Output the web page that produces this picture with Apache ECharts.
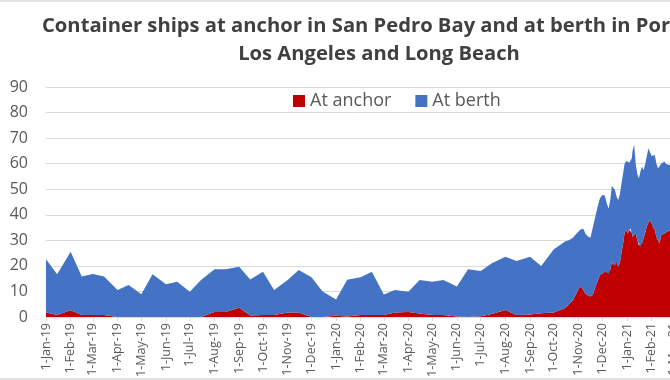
<!DOCTYPE html>
<html>
<head>
<meta charset="utf-8">
<script src="https://cdn.jsdelivr.net/npm/echarts@6/dist/echarts.min.js"></script>
<style>
html,body{margin:0;padding:0;background:#fff;}
#chart{width:670px;height:380px;}
</style>
</head>
<body>
<div id="chart"></div>
<script>
// Observation dates (semi-monthly, then denser from late Oct 2020)
const dates = [
 '2019-01-01','2019-01-15','2019-02-01','2019-02-15','2019-03-01','2019-03-15','2019-04-01','2019-04-15',
 '2019-05-01','2019-05-15','2019-06-01','2019-06-15','2019-07-01','2019-07-15','2019-08-01','2019-08-15',
 '2019-09-01','2019-09-15','2019-10-01','2019-10-15','2019-11-01','2019-11-15','2019-12-01','2019-12-15',
 '2020-01-01','2020-01-15','2020-02-01','2020-02-15','2020-03-01','2020-03-15','2020-04-01','2020-04-15',
 '2020-05-01','2020-05-15','2020-06-01','2020-06-15','2020-07-01','2020-07-15','2020-08-01','2020-08-15',
 '2020-09-01','2020-09-15','2020-10-01','2020-10-15',
 '2020-10-20','2020-10-25','2020-10-29','2020-11-01','2020-11-04','2020-11-07','2020-11-10','2020-11-13',
 '2020-11-16','2020-11-19','2020-11-22','2020-11-25','2020-11-28','2020-12-01','2020-12-04','2020-12-07',
 '2020-12-09','2020-12-11','2020-12-13','2020-12-15','2020-12-17','2020-12-19','2020-12-21','2020-12-23',
 '2020-12-25','2020-12-27','2020-12-29','2020-12-31','2021-01-02','2021-01-04','2021-01-05','2021-01-07',
 '2021-01-08','2021-01-10','2021-01-12','2021-01-14','2021-01-16','2021-01-18','2021-01-20','2021-01-22',
 '2021-01-24','2021-01-26','2021-01-28','2021-01-30','2021-02-01','2021-02-03','2021-02-05','2021-02-07',
 '2021-02-09','2021-02-11','2021-02-13','2021-02-15','2021-02-17','2021-02-19','2021-02-21','2021-02-23',
 '2021-02-25','2021-02-27'
];
// Ships at anchor in San Pedro Bay
const atAnchor = [
 1.8,0.8,2.6,0.8,0.8,0.8,0,0, 0,0,0,0,0,0,2,2, 3.6,0.6,0.8,0.8,1.8,1.8,0,0,
 0.5,0.2,0.8,0.8,0.8,1.8,2,1.4, 0.8,0.8,0.2,0,0.3,1.2,2.7,0.8, 1,1.5,1.8,3.5,
 5,6.6,9,11,11.9,10.6,9,8.5, 8,8.6,11.5,14,16.5,17,17.7,17.5,
 17,18.5,21.6,20.5,20,21.5,19.7,21, 25,28.5,33,34,32.7,34,34.7,33,
 31.4,32,32.7,30,28,27.5,29,31, 33,35.5,37,38,36.7,35,34,31.4,
 30,28.8,32,32.7,32.7,33,33.5,34, 34,35
];
// Ships at berth in the ports of Los Angeles and Long Beach
const atBerth = [
 20.8,15.9,22.9,15,16,15,10.6,12.5, 8.9,16.7,12.8,13.8,9.9,14.5,16.7,16.7, 16.1,14.1,16.9,9.8,12.7,16.6,15.6,10,
 6.3,14.4,14.8,16.9,8,8.8,7.9,13.1, 13,13.7,11.7,18.7,17.7,19.8,20.9,21.1, 22.6,18.5,24.7,26,
 25,24.4,23.5,22.5,22.4,23.9,23.5,23, 23,26.4,27.5,29,30,30.7,29.8,26.5,
 25.5,27.5,29.7,30,29.5,25.5,26.1,27, 27,27.5,27,27,28.7,26.5,25.3,29,
 33.6,35.5,27.3,26,26.3,29.5,29.8,26.5, 27,27.5,29,27.3,26.3,27.7,29.4,28.6,
 28.2,30.2,28,27.8,28.1,27,26,25.4, 26,26
];
const monthNames = ['Jan','Feb','Mar','Apr','May','Jun','Jul','Aug','Sep','Oct','Nov','Dec'];
const seriesNames = ['At anchor','At berth'];
const titleLines = ['Container ships at anchor in San Pedro Bay and at berth in Ports of','Los Angeles and Long Beach'];

function toTs(s){const p=s.split('-').map(Number);return new Date(p[0],p[1]-1,p[2]).getTime();}
const DAY = 86400000;

const chart = echarts.init(document.getElementById('chart'), null, {renderer:'canvas'});
const FONT = '"Open Sans", "Liberation Sans", sans-serif';
chart.setOption({
  animation:false,
  backgroundColor:'#fff',
  textStyle:{fontFamily:FONT},
  graphic:[
    {type:'rect', shape:{x:0,y:0,width:670,height:2}, style:{fill:'#e3e3e3'}, silent:true},
    {type:'rect', shape:{x:0,y:378,width:670,height:2}, style:{fill:'#e3e3e3'}, silent:true},
    {type:'text', x:42, y:26, style:{text:titleLines[0], fill:'#404040', fontSize:20.2, fontWeight:'bold', fontFamily:FONT, align:'left', verticalAlign:'middle'}},
    {type:'text', x:379, y:54, style:{text:titleLines[1], fill:'#404040', fontSize:20.2, fontWeight:'bold', fontFamily:FONT, align:'center', verticalAlign:'middle'}}
  ],
  legend:{
    data:seriesNames, left:288, top:87, icon:'rect', itemWidth:12, itemHeight:12, itemGap:24,
    textStyle:{fontSize:18, color:'#595959', fontFamily:FONT}
  },
  grid:{left:46, right:-15, top:87, bottom:63, containLabel:false, outerBoundsMode:'none'},
  xAxis:{
    type:'time', min:toTs('2019-01-01'), max:toTs('2021-03-15'),
    minInterval:28*DAY, maxInterval:31*DAY,
    axisLine:{show:true, lineStyle:{color:'#d9d9d9'}},
    axisTick:{show:true, length:4, lineStyle:{color:'#d9d9d9'}},
    axisLabel:{
      rotate:90, fontSize:12.5, color:'#595959', margin:6, fontFamily:FONT, hideOverlap:false,
      showMinLabel:true, showMaxLabel:false,
      formatter:function(v){const d=new Date(v);return d.getDate()+'-'+monthNames[d.getMonth()]+'-'+String(d.getFullYear()).slice(2);}
    },
    splitLine:{show:false}
  },
  yAxis:{
    type:'value', min:0, max:90, interval:10,
    axisLine:{show:false}, axisTick:{show:false},
    axisLabel:{fontSize:16, color:'#595959', margin:18, fontFamily:FONT},
    splitLine:{lineStyle:{color:'#d9d9d9', width:1}}
  },
  series:[
    {name:seriesNames[0], type:'line', stack:'ships', symbol:'none', smooth:false,
     data:dates.map((d,i)=>[toTs(d),atAnchor[i]]),
     itemStyle:{color:'#C00000'}, lineStyle:{width:0}, areaStyle:{color:'#C00000', opacity:1}},
    {name:seriesNames[1], type:'line', stack:'ships', symbol:'none', smooth:false,
     data:dates.map((d,i)=>[toTs(d),atBerth[i]]),
     itemStyle:{color:'#4472C4'}, lineStyle:{width:0}, areaStyle:{color:'#4472C4', opacity:1}}
  ]
});
</script>
</body>
</html>
